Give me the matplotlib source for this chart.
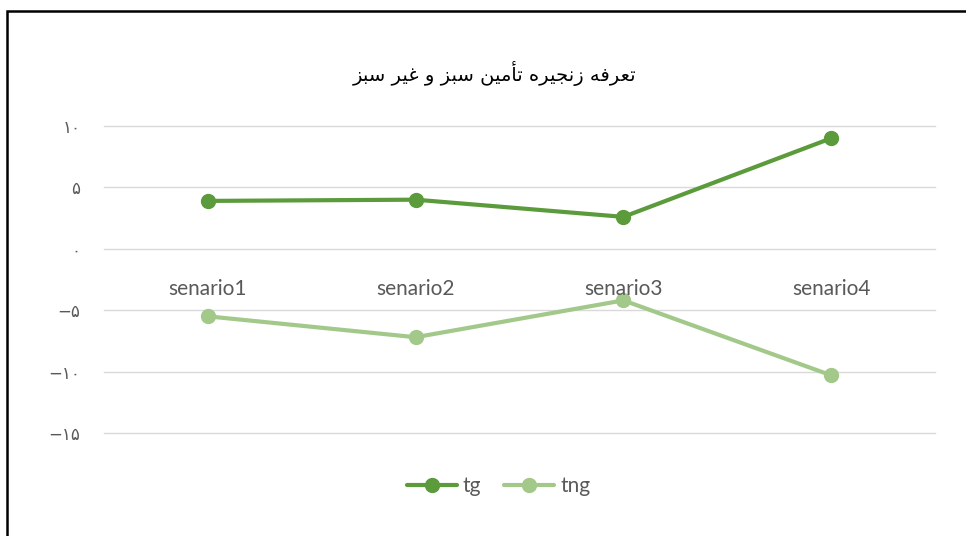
import matplotlib
matplotlib.use('Agg')
import matplotlib.pyplot as plt
from matplotlib.patches import Rectangle

# data
categories = ['senario1', 'senario2', 'senario3', 'senario4']
tg = [3.9, 4.0, 2.6, 9.0]
tng = [-5.5, -7.2, -4.2, -10.3]
yticks = [10, 5, 0, -5, -10, -15]
title = 'تعرفه زنجیره تأمین سبز و غیر سبز'

# simple arabic shaping (matplotlib does no shaping / bidi)
forms = {
    'ت': ('\uFE95', '\uFE96', '\uFE97', '\uFE98'),
    'ع': ('\uFEC9', '\uFECA', '\uFECB', '\uFECC'),
    'ر': ('\uFEAD', '\uFEAE', None, None),
    'ف': ('\uFED1', '\uFED2', '\uFED3', '\uFED4'),
    'ه': ('\uFEE9', '\uFEEA', '\uFEEB', '\uFEEC'),
    'ز': ('\uFEAF', '\uFEB0', None, None),
    'ن': ('\uFEE5', '\uFEE6', '\uFEE7', '\uFEE8'),
    'ج': ('\uFE9D', '\uFE9E', '\uFE9F', '\uFEA0'),
    'ی': ('\uFBFC', '\uFBFD', '\uFBFE', '\uFBFF'),
    'أ': ('\uFE83', '\uFE84', None, None),
    'م': ('\uFEE1', '\uFEE2', '\uFEE3', '\uFEE4'),
    'س': ('\uFEB1', '\uFEB2', '\uFEB3', '\uFEB4'),
    'ب': ('\uFE8F', '\uFE90', '\uFE91', '\uFE92'),
    'و': ('\uFEED', '\uFEEE', None, None),
    'غ': ('\uFECD', '\uFECE', '\uFECF', '\uFED0'),
}

def shape(s):
    out = []
    for i, c in enumerate(s):
        if c not in forms:
            out.append(c)
            continue
        prev = s[i-1] if i > 0 else ''
        nxt = s[i+1] if i < len(s)-1 else ''
        jp = prev in forms and forms[prev][2] is not None
        jn = forms[c][2] is not None and nxt in forms
        f = forms[c]
        if jp and jn:
            out.append(f[3])
        elif jp:
            out.append(f[1])
        elif jn:
            out.append(f[2])
        else:
            out.append(f[0])
    return ''.join(out)[::-1]

def fa_num(v):
    d = '۰۱۲۳۴۵۶۷۸۹'
    s = ''.join(d[int(ch)] for ch in str(abs(v)))
    return ('\u2212' + s) if v < 0 else s

dark = '#5B9B3C'
light = '#A3C98A'
grey = '#595959'

fig = plt.figure(figsize=(9.66, 5.36), dpi=100)
ax = fig.add_axes([104/966, 1-433/536, (935-104)/966, (433-126)/536])

x = list(range(len(categories)))
ax.plot(x, tg, color=dark, lw=3, marker='o', ms=10, label='tg', solid_capstyle='round')
ax.plot(x, tng, color=light, lw=3, marker='o', ms=10, label='tng', solid_capstyle='round')

ax.set_xlim(-0.5, 3.5)
ax.set_ylim(-15, 10)
ax.set_yticks(yticks)
ax.set_yticklabels([fa_num(v) for v in yticks], family=['DejaVu Sans'], fontsize=12, color=grey)
ax.tick_params(axis='y', length=0, pad=17)
ax.set_xticks([])
for s in ax.spines.values():
    s.set_visible(False)
ax.grid(axis='y', color='#D9D9D9', lw=1)
for g in ax.get_ygridlines():
    g.set_clip_on(False)
ax.set_axisbelow(True)

for i, c in enumerate(categories):
    ax.text(i, -3.3, c, ha='center', va='center', fontsize=15, color=grey, family='Lato')

fig.text(0.512, 1-73/536, shape(title), ha='center', va='center', fontsize=14,
         color='black', family='DejaVu Sans')

leg = ax.legend(loc='center', bbox_to_anchor=(0.475, 1-(486-126)/307), ncol=2, frameon=False,
                prop={'family': 'Lato', 'size': 15}, handlelength=2.4, columnspacing=1.1,
                handletextpad=0.3)
for t in leg.get_texts():
    t.set_color(grey)

fig.add_artist(Rectangle((7/966, -0.1), 1.1, 1.1-11/536, transform=fig.transFigure,
                         fill=False, ec='black', lw=1.8))

fig.savefig('out.png', dpi=100)
